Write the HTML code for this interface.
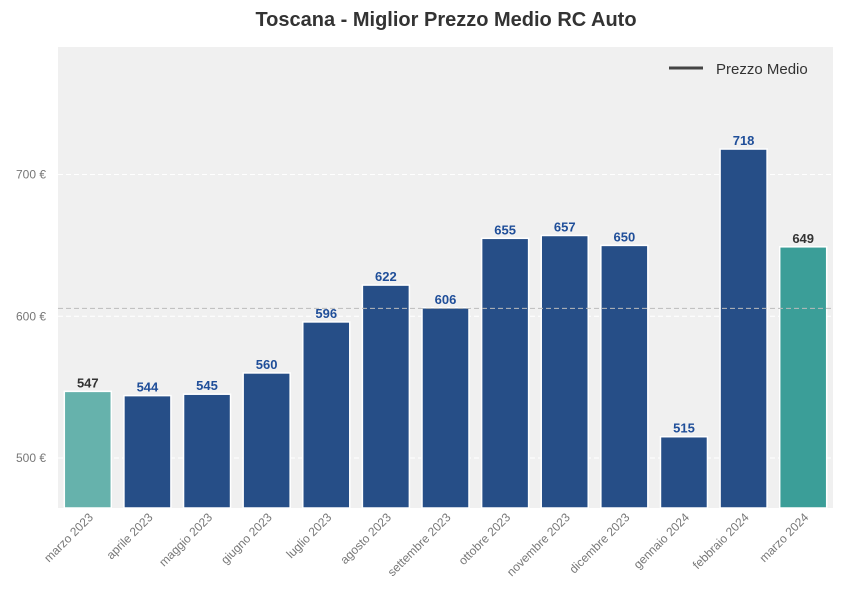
<!DOCTYPE html>
<html><head><meta charset="utf-8"><style>
body{margin:0;background:#fff;font-family:"Liberation Sans",Arial,sans-serif}
</style></head><body>
<svg id="c" width="843" height="610" xmlns="http://www.w3.org/2000/svg">
<text x="446" y="26" text-anchor="middle" font-size="20" font-weight="bold" fill="#333">Toscana - Miglior Prezzo Medio RC Auto</text>
<rect x="58" y="47" width="775" height="461" fill="#f0f0f0"/>
<g id="grid"></g><g id="bars"></g><g id="labels"></g>
<g>
<line x1="669" y1="68" x2="703" y2="68" stroke="#444" stroke-width="3"/>
<text x="716" y="74" font-size="15" fill="#333">Prezzo Medio</text>
</g>
</svg>
<script>
const categories=["marzo 2023","aprile 2023","maggio 2023","giugno 2023","luglio 2023","agosto 2023","settembre 2023","ottobre 2023","novembre 2023","dicembre 2023","gennaio 2024","febbraio 2024","marzo 2024"];
const values=[547,544,545,560,596,622,606,655,657,650,515,718,649];
const yTicks=[500,600,700];
const average=605.6;
const ns="http://www.w3.org/2000/svg";
const x0=58,x1=833,yTop=47,yBot=508,vMin=464.7,vMax=790;
const y=v=>yBot-(v-vMin)/(vMax-vMin)*(yBot-yTop);
const step=(x1-x0)/categories.length;
const cx=i=>x0+step*(i+0.5);
function mk(t,a,p){const e=document.createElementNS(ns,t);for(const k in a)e.setAttribute(k,a[k]);p.appendChild(e);return e;}
const grid=document.getElementById('grid'),bars=document.getElementById('bars'),labels=document.getElementById('labels');
yTicks.forEach(t=>{
 const l=mk('line',{x1:x0,x2:x1,y1:y(t),y2:y(t),stroke:'#fff','stroke-dasharray':'5,3','stroke-width':1},grid);
 
 
 const tx=mk('text',{x:46,y:y(t)+4,'text-anchor':'end','font-size':12,fill:'#777'},grid);
 tx.textContent=t+' €';
 
 
});
values.forEach((v,i)=>{
 const first=i===0,last=i===values.length-1;
 const col=first?'#66b2ac':last?'#3b9e98':'#264e87';
 const w=47;
 const r=mk('rect',{x:cx(i)-w/2,y:y(v),width:w,height:yBot-y(v),fill:col,stroke:'#fff','stroke-width':1.5},bars);
 
 
 const t=mk('text',{x:cx(i),y:y(v)-4,'text-anchor':'middle','font-size':13,'font-weight':'bold',fill:(first||last)?'#333':'#1f4e99'},labels);
 t.textContent=v;
 
 
 const c=mk('text',{x:cx(i)+6,y:518,'text-anchor':'end','font-size':12,fill:'#777',transform:'rotate(-45 '+(cx(i)+6)+' 518)'},labels);
 c.textContent=categories[i];
 
 
});
const a=mk('line',{x1:x0,x2:x1,y1:y(average),y2:y(average),stroke:'#bbb','stroke-dasharray':'5,3','stroke-width':1},labels);


</script>
</body></html>
